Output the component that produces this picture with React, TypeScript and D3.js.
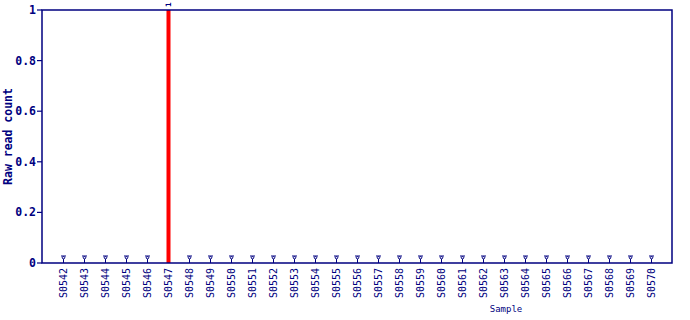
import React from "react";
import * as d3 from "d3";

const samples = [
  "S0542","S0543","S0544","S0545","S0546","S0547","S0548","S0549","S0550","S0551",
  "S0552","S0553","S0554","S0555","S0556","S0557","S0558","S0559","S0560","S0561",
  "S0562","S0563","S0564","S0565","S0566","S0567","S0568","S0569","S0570",
];
const counts = [0,0,0,0,0,1,0,0,0,0,0,0,0,0,0,0,0,0,0,0,0,0,0,0,0,0,0,0,0];
const yTicks = [0, 0.2, 0.4, 0.6, 0.8, 1];
const yTickLabels = ["0", "0.2", "0.4", "0.6", "0.8", "1"];

const W = 690, H = 320;
const M = { left: 42, top: 10, right: 672, bottom: 263 };
const NAVY = "#000080";
const MONO = "'DejaVu Sans Mono', 'Liberation Mono', monospace";

export default function App() {
  const x = d3.scalePoint<string>().domain(samples).range([M.left, M.right]).padding(1);
  const y = d3.scaleLinear().domain([0, 1]).range([M.bottom, M.top]);

  return (
    <svg width={W} height={H} style={{ position: "absolute", left: 0, top: 0, background: "#fff" }}>
      {samples.map((s, i) => {
        const cx = (x(s) as number) + 0.5;
        const v = counts[i];
        if (v > 0) {
          return (
            <g key={s}>
              <rect x={cx - 2} y={y(v)} width={4} height={y(0) - y(v)} fill="#ff0000" />
              <text
                transform={`translate(${cx + 2.5},${y(v) - 3}) rotate(-90)`}
                fontFamily={MONO}
                fontWeight="bold"
                fontSize={7.5}
                fill={NAVY}
              >
                {v}
              </text>
            </g>
          );
        }
        return (
          <g key={s} stroke={NAVY} strokeWidth={1} fill="none">
            <line x1={cx} x2={cx} y1={y(0)} y2={y(0) - 4} />
            <line x1={cx - 2.5} x2={cx + 2.5} y1={y(0) - 7} y2={y(0) - 7} />
            <ellipse cx={cx} cy={y(0) - 5.3} rx={1.3} ry={1.1} />
          </g>
        );
      })}
      <path
        d={`M${M.left},${M.top}H${M.right}V${M.bottom}H${M.left}Z`}
        fill="none"
        stroke={NAVY}
        strokeWidth={1.5}
      />
      {yTicks.map((t, i) => (
        <g key={t}>
          <line x1={M.left - 5} x2={M.left} y1={y(t)} y2={y(t)} stroke={NAVY} strokeWidth={1.2} />
          <text
            x={M.left - 6}
            y={y(t)}
            dy="0.35em"
            textAnchor="end"
            fontFamily={MONO}
            fontWeight="bold"
            fontSize={11.5}
            fill={NAVY}
          >
            {yTickLabels[i]}
          </text>
        </g>
      ))}
      {samples.map((s) => {
        const cx = (x(s) as number) + 0.5;
        return (
          <text
            key={s}
            transform={`translate(${cx + 3.5},${M.bottom + 5}) rotate(-90)`}
            textAnchor="end"
            fontFamily={MONO}
            fontSize={10}
            fill={NAVY}
          >
            {s}
          </text>
        );
      })}
      <text
        transform={`translate(12,${(M.top + M.bottom) / 2}) rotate(-90)`}
        textAnchor="middle"
        fontFamily={MONO}
        fontWeight="bold"
        fontSize={11.5}
        fill={NAVY}
      >
        Raw read count
      </text>
      <text x={506} y={312} textAnchor="middle" fontFamily={MONO} fontSize={9} fill={NAVY}>
        Sample
      </text>
    </svg>
  );
}
